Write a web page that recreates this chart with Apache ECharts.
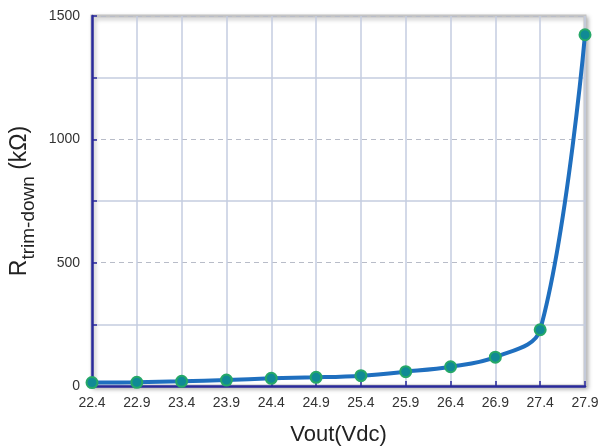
<!DOCTYPE html>
<html><head><meta charset="utf-8">
<script src="https://cdn.jsdelivr.net/npm/echarts@6/dist/echarts.min.js"></script>
<style>html,body{margin:0;padding:0;background:#fff}#c{width:607px;height:448px}</style>
</head><body><div id="c"></div>
<script>
const categories = ['22.4','22.9','23.4','23.9','24.4','24.9','25.4','25.9','26.4','26.9','27.4','27.9'];
const rTrimDown = [14, 15, 19, 24, 31, 35, 42, 58, 78, 117, 228, 1424];
const xTitle = 'Vout(Vdc)';
const chart = echarts.init(document.getElementById('c'));
const font = 'Liberation Sans, Arial, sans-serif';
chart.setOption({
  animation: false,
  grid: {left: 92, right: 22, top: 16, bottom: 62, outerBoundsMode: 'none', containLabel: false,
         show: true, borderColor: '#c4c4c4', borderWidth: 3,
         shadowColor: 'rgba(0,0,0,0.25)', shadowBlur: 4, shadowOffsetX: 2, shadowOffsetY: 2, backgroundColor: '#fff'},
  xAxis: {
    type: 'category', data: categories, boundaryGap: false,
    name: xTitle, nameLocation: 'middle', nameGap: 38,
    nameTextStyle: {fontFamily: font, fontSize: 22, color: '#222'},
    axisLine: {lineStyle: {color: '#2a2a9a', width: 2.5}},
    axisTick: {inside: true, length: 5, lineStyle: {color: '#2a2a9a', width: 1.5}},
    axisLabel: {fontFamily: font, fontSize: 14, color: '#333', margin: 10},
    splitLine: {show: true, lineStyle: {color: '#c5cde0', width: 1.5}}
  },
  yAxis: {
    type: 'value', min: 0, max: 1500, interval: 500,
    name: '{r|R}{s|trim-down}{r| (kΩ)}', nameLocation: 'middle', nameGap: 60,
    nameTextStyle: {rich: {
      r: {fontFamily: font, fontSize: 23, color: '#222', verticalAlign: 'bottom', lineHeight: 28},
      s: {fontFamily: font, fontSize: 19, color: '#222', verticalAlign: 'bottom', padding: [0,0,-7,0], lineHeight: 28}
    }},
    axisLine: {show: true, lineStyle: {color: '#2a2a9a', width: 2.5}},
    axisTick: {show: true, inside: true, length: 5, lineStyle: {color: '#2a2a9a', width: 1.5}},
    minorTick: {show: true, splitNumber: 2, length: 5, lineStyle: {color: '#2a2a9a', width: 1.5}},
    axisLabel: {fontFamily: font, fontSize: 14, color: '#333', margin: 12, formatter: v => String(v)},
    splitLine: {show: true, lineStyle: {color: '#b8bcc8', width: 1, type: [5, 4]}},
    minorSplitLine: {show: true, lineStyle: {color: '#c5cde0', width: 1.5}}
  },
  series: [{
    type: 'line', data: rTrimDown, smooth: 0.35,
    lineStyle: {color: '#1f6fbf', width: 4},
    symbol: 'circle', symbolSize: 11,
    itemStyle: {color: '#108a95', borderColor: '#26a868', borderWidth: 2}
  }]
});
</script></body></html>
